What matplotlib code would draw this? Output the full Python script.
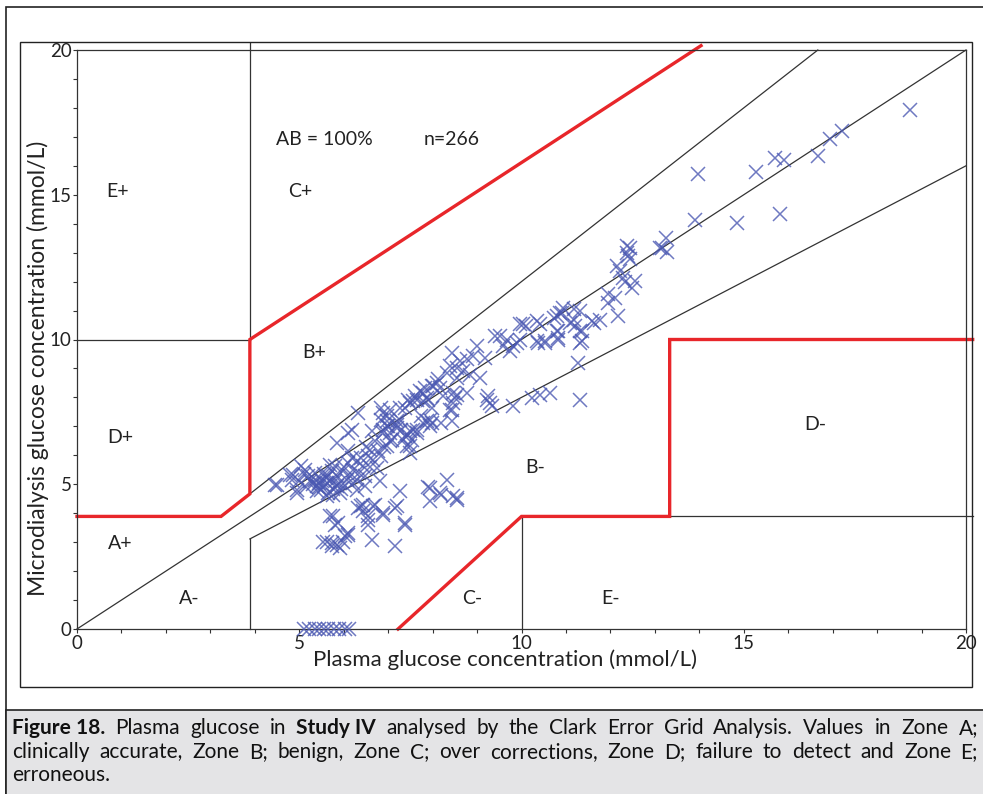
import matplotlib
matplotlib.use("Agg")
import matplotlib.pyplot as plt
from matplotlib.patches import Rectangle
from matplotlib.ticker import MultipleLocator

plt.rcParams['font.family'] = ['Lato', 'DejaVu Sans']

# scatter data (mmol/L)
plasma = [
    5.1, 5.22, 5.35, 5.45, 5.55, 5.65, 5.78, 5.9, 6.02, 6.12,
    5.69, 5.77, 5.88, 5.8, 5.62, 5.54, 5.73, 5.73, 5.84, 5.92, 5.99, 6.03, 6.1, 6.1,
    6.33, 6.4, 6.44, 6.44, 6.55, 6.55, 6.55, 6.63, 6.67, 6.7, 6.89, 6.89, 7.15, 7.19,
    7.27, 7.38, 7.38, 7.15, 7.9, 7.94, 7.94, 8.17, 8.2, 8.32, 8.47, 8.54, 8.54,
    4.45, 4.49, 4.79, 4.87, 4.83, 4.94, 4.94, 5.05, 5.13, 5.2, 5.35, 5.39, 5.5, 5.5,
    5.62, 5.65, 5.73, 5.8, 5.69, 5.84, 5.84, 5.92, 5.77, 5.62, 5.99, 6.07, 6.03, 6.22,
    6.18, 6.29, 6.44, 6.48, 6.48, 6.29, 6.1, 5.84, 6.18, 6.1, 6.33, 6.63, 6.59, 6.55,
    6.67, 6.78, 6.85, 6.74, 6.82,
    5.3, 5.45, 5.55, 5.6, 5.7, 5.75, 5.4, 5.25, 5.15, 5.55, 5.9, 5.95, 6.15, 6.2, 6.35,
    5.35, 5.0, 5.1, 5.65, 6.0, 6.1, 5.8, 5.45, 6.3, 6.6, 6.4, 6.9, 6.7, 6.5,
    6.85, 6.89, 6.85, 6.97, 7.0, 6.89, 7.04, 7.04, 6.97, 7.19, 7.19, 7.3, 7.34, 7.45,
    7.57, 7.49, 7.49, 7.64, 7.38, 7.49, 7.64, 7.79, 7.87, 7.98, 8.09, 8.24, 8.39, 8.47,
    8.54, 7.87, 7.98, 8.2,
    7.83, 7.72, 7.6, 7.57, 7.79, 7.9, 7.98, 7.45, 7.27, 7.04, 6.97, 7.94, 7.75, 7.79,
    7.94, 7.64, 7.49, 7.38, 7.53, 7.27, 7.19, 6.97, 6.89, 7.08, 7.42,
    8.43, 8.62, 8.77, 8.92, 8.54, 8.69, 8.39, 8.32, 8.84, 8.54, 8.13, 8.02, 8.17, 8.47,
    8.5, 8.43, 8.43, 8.77, 9.07, 8.99, 9.18, 9.22, 9.29, 9.25, 9.33, 9.4, 9.52, 9.67,
    9.59, 9.82, 9.74, 9.89, 9.82,
    9.97, 10.1, 10.42, 10.79, 10.9, 11.17, 11.32, 11.09, 11.62, 11.32, 10.79, 10.83,
    10.34, 10.53, 11.35, 11.28, 11.32, 10.64, 10.42, 10.23, 9.97, 10.94, 10.87, 10.72,
    10.34, 10.04, 11.17, 11.2, 11.58, 11.35, 10.83, 10.38, 10.53, 10.83, 11.32,
    11.77, 11.95, 11.95, 12.1, 12.18, 12.29, 12.48, 12.55, 12.33, 12.14, 12.22, 12.37,
    12.44, 12.4, 12.37, 12.44, 13.15, 13.12, 13.27, 13.25,
    13.97, 13.91, 14.85, 15.81, 15.27, 15.7, 15.9, 16.66, 16.94, 17.2, 18.74,
]
micro = [
    0, 0, 0, 0, 0, 0, 0, 0, 0, 0,
    3.89, 3.89, 3.66, 3.6, 3.02, 3.02, 2.96, 2.85, 2.91, 2.79, 3.02, 3.2, 3.31, 3.25,
    4.17, 4.24, 4.06, 4.29, 3.89, 3.77, 3.6, 3.08, 4.24, 4.29, 3.94, 4.0, 4.17, 4.24,
    4.75, 3.6, 3.66, 2.85, 4.92, 4.87, 4.41, 4.7, 4.64, 5.16, 4.58, 4.52, 4.46,
    4.98, 4.98, 5.33, 5.33, 5.16, 4.81, 4.7, 5.62, 5.5, 5.27, 5.16, 4.93, 4.81, 5.16,
    5.04, 5.27, 5.45, 5.62, 5.67, 5.27, 4.93, 4.7, 4.64, 4.58, 5.45, 5.16, 4.93, 5.5,
    5.9, 5.79, 5.62, 5.27, 4.93, 4.81, 6.14, 6.43, 6.89, 6.77, 7.46, 6.83, 6.19, 5.96,
    5.85, 6.14, 5.96, 5.55, 5.1,
    5.0, 5.05, 4.95, 5.2, 5.1, 4.85, 4.75, 5.1, 4.9, 5.35, 5.05, 4.85, 5.3, 5.05, 5.4,
    5.4, 5.1, 5.35, 4.7, 5.6, 5.75, 5.1, 4.9, 5.15, 5.6, 5.9, 6.3, 6.5, 6.3,
    7.63, 7.46, 7.23, 7.17, 7.0, 6.89, 6.77, 6.48, 6.31, 7.17, 6.94, 6.89, 6.54, 6.71,
    6.89, 6.31, 6.08, 6.77, 7.63, 7.81, 7.92, 8.15, 7.98, 8.38, 8.5, 8.04, 7.58, 7.81,
    8.1, 7.17, 7.12, 7.12,
    8.33, 8.21, 8.04, 7.87, 7.87, 7.92, 7.63, 7.92, 7.63, 7.58, 7.35, 7.23, 7.35, 7.12,
    7.0, 6.89, 6.83, 6.66, 6.54, 7.23, 7.06, 7.0, 6.77, 6.54, 6.31,
    9.54, 9.25, 9.31, 9.42, 9.02, 8.9, 9.08, 8.85, 8.79, 8.67, 8.62, 8.38, 8.33, 8.15,
    7.98, 7.58, 7.17, 8.15, 8.67, 9.77, 9.37, 7.92, 7.81, 8.04, 7.69, 10.12, 10.12, 10.0,
    9.77, 9.77, 9.6, 9.88, 7.69,
    10.52, 10.45, 10.52, 10.81, 10.92, 11.04, 11.0, 10.58, 10.58, 10.29, 10.29, 10.0,
    9.94, 9.94, 9.94, 9.19, 7.92, 8.15, 8.1, 7.98, 10.0, 11.09, 10.92, 10.75,
    10.63, 10.52, 10.69, 10.46, 10.63, 10.29, 10.29, 9.88, 9.88, 10.06, 9.88,
    10.69, 11.56, 11.27, 11.44, 10.81, 12.13, 11.79, 12.02, 11.99, 12.54, 12.36, 13.23,
    13.15, 12.88, 13.0, 12.77, 13.17, 13.15, 13.02, 13.49,
    15.73, 14.13, 14.01, 14.34, 15.77, 16.26, 16.2, 16.34, 16.92, 17.21, 17.93,
]

# Clark grid corners, mg/dL converted to mmol/L
g56, g58, g70, g84 = 56 / 18, 58.33 / 18, 70 / 18, 84 / 18
g130, g180, g240 = 130 / 18, 180 / 18, 240 / 18

zone_labels = ['E+', 'C+', 'B+', 'D+', 'A+', 'A-', 'C-', 'E-', 'B-', 'D-']
zone_x = [0.92, 5.02, 5.33, 0.97, 0.97, 2.52, 8.89, 12.0, 10.3, 16.6]
zone_y = [15.1, 15.1, 9.55, 6.6, 2.94, 1.07, 1.07, 1.07, 5.57, 7.06]

W, H = 983, 794
fig = plt.figure(figsize=(W / 100, H / 100), dpi=100)


def fx(px):
    return px / W


def fy(py):
    return 1 - py / H


# frames around the figure
fig.patches.append(Rectangle((fx(6), fy(794)), fx(990), fy(7) - fy(794), transform=fig.transFigure,
                             fill=False, edgecolor='#222222', lw=1.2))
fig.patches.append(Rectangle((fx(20), fy(687)), fx(972) - fx(20), fy(42) - fy(687), transform=fig.transFigure,
                             fill=False, edgecolor='#222222', lw=1.0))
fig.patches.append(Rectangle((fx(6), fy(800)), fx(990), fy(710) - fy(800), transform=fig.transFigure,
                             facecolor='#e4e4e6', edgecolor='#222222', lw=1.2))

ax = fig.add_axes([fx(77), fy(629), fx(966) - fx(77), fy(50) - fy(629)])
ax.set_xlim(0, 20)
ax.set_ylim(0, 20)

blk = dict(color='#333333', lw=0.9, clip_on=False)
ax.plot([0, 20], [0, 20], **blk)
ax.plot([g70, 20 / 1.2], [g84, 20], **blk)
ax.plot([g70, 20], [g56, 16], **blk)
ax.plot([g70, g70], [0, g56], **blk)
ax.plot([g70, g70], [g180, 20.25], **blk)
ax.plot([0, g70], [g180, g180], **blk)
ax.plot([g180, g180], [0, g70], **blk)
ax.plot([g240, 20.15], [g70, g70], **blk)

red = dict(color='#e8262a', lw=2.4, clip_on=False, solid_joinstyle='miter')
ax.plot([0, g58, g70, g70, 20.15 - 110 / 18], [g70, g70, g84, g180, 20.15], **red)
ax.plot([g130, g180, g240, g240, 20.15], [0, g70, g70, g180, g180], **red)

ax.plot(plasma, micro, linestyle='none', marker='x', markersize=10, mew=1.1,
        color='#4a58b2', alpha=0.8, clip_on=False, zorder=5)

for lab, x, y in zip(zone_labels, zone_x, zone_y):
    ax.text(x, y, lab, ha='center', va='center', fontsize=14, color='#222222')
ax.text(4.48, 16.9, 'AB = 100%', ha='left', va='center', fontsize=14, color='#222222')
ax.text(7.8, 16.9, 'n=266', ha='left', va='center', fontsize=14, color='#222222')

ax.xaxis.set_major_locator(MultipleLocator(5))
ax.yaxis.set_major_locator(MultipleLocator(5))
ax.xaxis.set_minor_locator(MultipleLocator(1))
ax.yaxis.set_minor_locator(MultipleLocator(1))
ax.tick_params(which='both', direction='out', length=3, width=0.8, colors='#333333')
ax.tick_params(labelsize=13.5, labelcolor='#222222', pad=1)
for s in ax.spines.values():
    s.set_linewidth(0.9)
    s.set_color('#333333')

ax.set_xlabel('Plasma glucose concentration (mmol/L)', fontsize=16, color='#222222')
ax.xaxis.set_label_coords(0.481, -0.036)
ax.set_ylabel('Microdialysis glucose concentration (mmol/L)', fontsize=16.5, color='#222222')
ax.yaxis.set_label_coords(-0.031, 0.45)

# caption, justified like the source page
caption = [
    [('Figure 18.', 'bold'), ('Plasma', 'normal'), ('glucose', 'normal'), ('in', 'normal'),
     ('Study IV', 'bold'), ('analysed', 'normal'), ('by', 'normal'), ('the', 'normal'), ('Clark', 'normal'),
     ('Error', 'normal'), ('Grid', 'normal'), ('Analysis.', 'normal'), ('Values', 'normal'), ('in', 'normal'),
     ('Zone', 'normal'), ('A;', 'normal')],
    [(w, 'normal') for w in 'clinically accurate, Zone B; benign, Zone C; over corrections, Zone D; '
                            'failure to detect and Zone E;'.split()],
    [('erroneous.', 'normal')],
]
line_y = [728, 752, 775]
left, right = 12, 978
fig.canvas.draw()
renderer = fig.canvas.get_renderer()
for i, words in enumerate(caption):
    texts = []
    for w, wt in words:
        t = fig.text(0, fy(line_y[i]), w, fontsize=15, fontweight=wt, va='center',
                     family=['Lato', 'DejaVu Sans'], color='#111111')
        texts.append(t)
    widths = [t.get_window_extent(renderer).width for t in texts]
    if i < len(caption) - 1 and len(texts) > 1:
        gap = (right - left - sum(widths)) / (len(texts) - 1)
    else:
        gap = 4.5
    x = left
    for t, w in zip(texts, widths):
        t.set_x(fx(x))
        x += w + gap

fig.savefig('out.png', dpi=100)
